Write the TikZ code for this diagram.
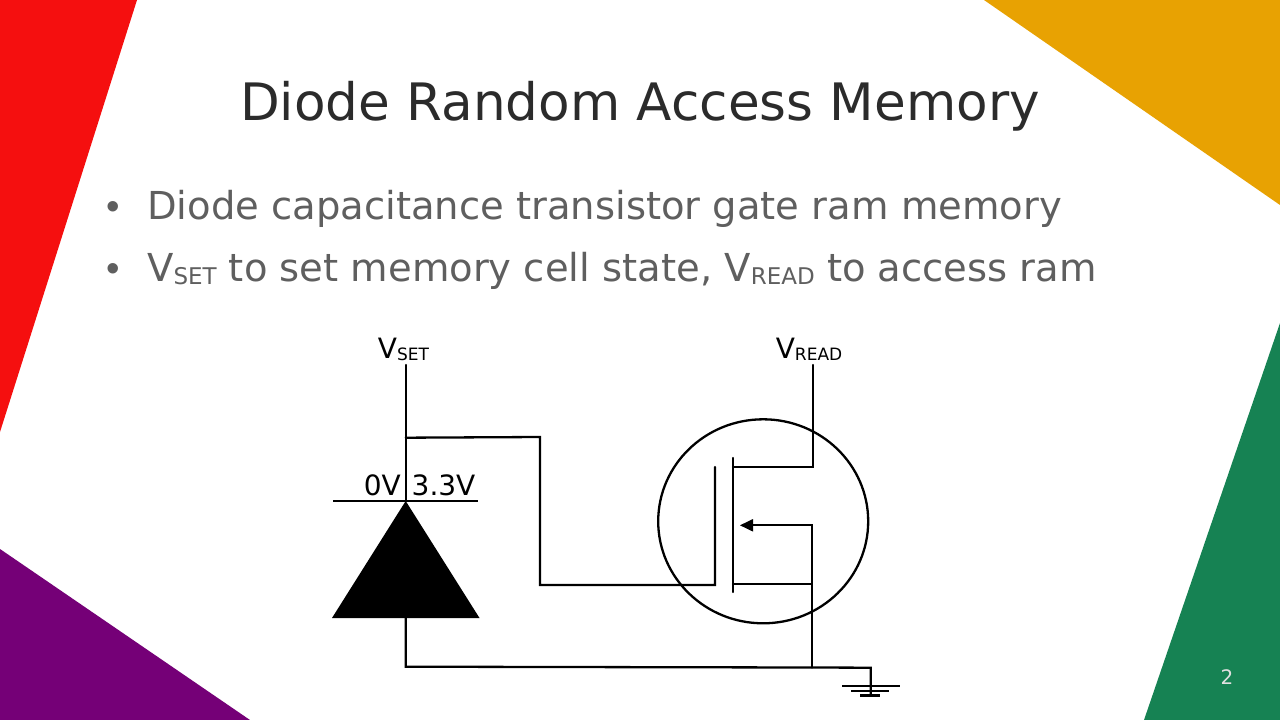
\documentclass[tikz,border=0pt]{standalone}
\usepackage{fontspec}
\setmainfont{DejaVu Sans}
\newfontfamily\bulletfont{Liberation Sans}
\usetikzlibrary{arrows.meta}
\definecolor{cred}{HTML}{F50F0F}
\definecolor{corange}{HTML}{E8A202}
\definecolor{cpurple}{HTML}{750077}
\definecolor{cgreen}{HTML}{168253}
\definecolor{ctitle}{HTML}{2B2B2B}
\definecolor{cbody}{HTML}{5F5F5F}
\tikzset{
  wire/.style={draw=black,line width=2.3pt,line cap=round,line join=miter},
  titletext/.style={inner sep=0pt,text=ctitle,font=\fontsize{51.6}{60}\selectfont},
  bodytext/.style={inner sep=0pt,anchor=base west,text=cbody,font=\fontsize{38.5}{46}\selectfont},
  circlabel/.style={inner sep=0pt,text=black,font=\fontsize{28}{32}\selectfont},
}
\newcommand{\subs}[2]{\raisebox{-0.1em}{\fontsize{#1}{#1}\selectfont #2}}
\begin{document}
\begin{tikzpicture}[x=1pt,y=-1pt]
\useasboundingbox (0,0) rectangle (1280,720);
\fill[white] (0,0) rectangle (1280,720);
\fill[cred] (0,0) -- (137,0) -- (0,432) -- cycle;
\fill[corange] (984,0) -- (1280,0) -- (1280,205) -- cycle;
\fill[cpurple] (0,549) -- (250,720) -- (0,720) -- cycle;
\fill[cgreen] (1280,323) -- (1280,720) -- (1144,720) -- cycle;
\node[titletext] (title) at (640,106.5) {Diode Random Access Memory};
\node[bodytext,font=\fontsize{38.5}{46}\bulletfont] (b1) at (106,219) {•};
\node[bodytext] (t1) at (147,219) {Diode capacitance transistor gate ram memory};
\node[bodytext,font=\fontsize{38.5}{46}\bulletfont] (b2) at (106,281) {•};
\node[bodytext] (t2) at (147,281) {V\subs{23}{SET} to set memory cell state, V\subs{23}{READ} to access ram};
\node[inner sep=0pt,text=white!88!black,font=\fontsize{20}{24}\selectfont] (pg) at (1227,677) {2};
% circuit
\node[circlabel,anchor=base] (vset) at (403.5,358) {V\subs{17}{SET}};
\node[circlabel,anchor=base] (vread) at (809,358) {V\subs{17}{READ}};
\node[circlabel,anchor=base east] (zero) at (401,495) {0V};
\node[circlabel,anchor=base west] (three) at (411.5,495) {3.3V};
\coordinate (a) at (405.7,365);
\coordinate (ap) at (405.7,501);
\coordinate (j) at (405.7,437.7);
\coordinate (k) at (540,437);
\coordinate (l) at (540,585);
\coordinate (gb) at (715,585);
\coordinate (gt) at (715,467);
\coordinate (ct) at (733,458);
\coordinate (cb) at (733,592);
\coordinate (dl) at (733,467);
\coordinate (dr) at (813,467);
\coordinate (dt) at (813,365);
\coordinate (sa) at (750,525.3);
\coordinate (sr) at (811.7,525.3);
\coordinate (sl) at (733,583.7);
\coordinate (sm) at (811.7,583.7);
\coordinate (sb) at (811.7,667.5);
\coordinate (kb) at (405.7,617);
\coordinate (kc) at (405.7,666.7);
\coordinate (gn) at (870.7,667.7);
\coordinate (gd) at (870.7,695.5);
\draw[wire] (a) -- (ap);
\draw[wire] (j) -- (k) -- (l) -- (gb) -- (gt);
\draw[wire] (ct) -- (cb);
\draw[wire] (dl) -- (dr) -- (dt);
\draw[wire] (sl) -- (sm);
\draw[wire] (sb) -- (sr) -- (sa);
\fill[black] (740,525.3) -- (753,519) -- (753,531.6) -- cycle;
\draw[wire] (kb) -- (kc) -- (sb) -- (gn) -- (gd);
\draw[wire] (763.2,521.3) ellipse [x radius=105,y radius=102];
\draw[wire,line cap=butt] (333,501) -- (478,501);
\fill[black] (ap) -- (479.5,618) -- (332,618) -- cycle;
\draw[wire,line cap=butt] (842,686) -- (900,686);
\draw[wire,line cap=butt] (851,690.7) -- (889,690.7);
\draw[wire,line cap=butt] (860,695.5) -- (880,695.5);
\end{tikzpicture}
\end{document}
